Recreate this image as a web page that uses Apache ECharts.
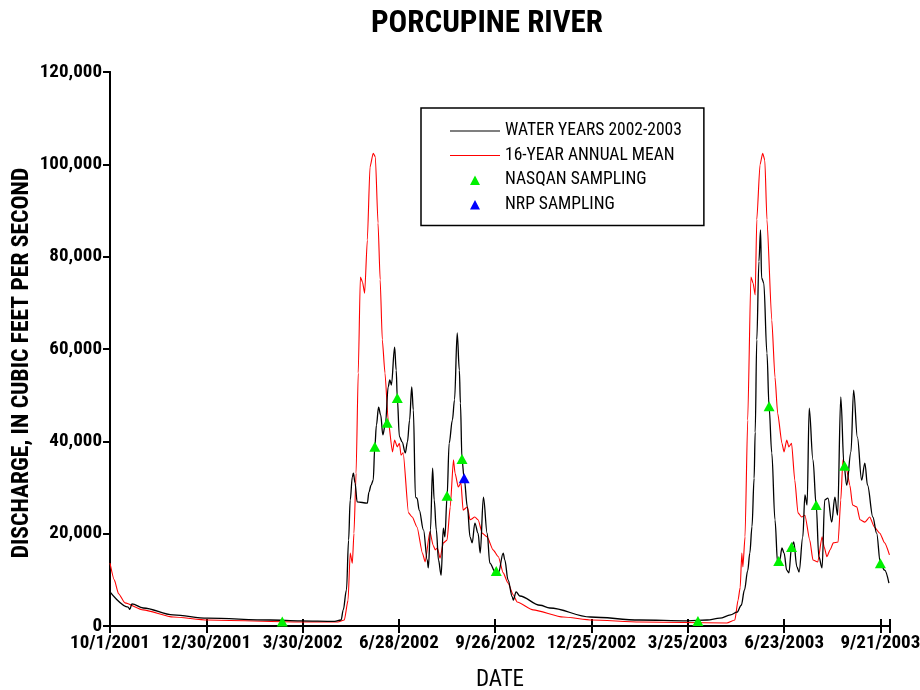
<!DOCTYPE html>
<html>
<head>
<meta charset="utf-8">
<script src="https://cdn.jsdelivr.net/npm/echarts@6/dist/echarts.min.js"></script>
<style>html,body{margin:0;padding:0;background:#fff}#c{width:920px;height:690px}</style>
</head>
<body>
<div id="c"></div>
<script>
// x values are days since 10/1/2001
const dateTickLabels = ['10/1/2001','12/30/2001','3/30/2002','6/28/2002','9/26/2002','12/25/2002','3/25/2003','6/23/2003','9/21/2003'];
const flowTicks = [0, 20000, 40000, 60000, 80000, 100000, 120000];

const wyDays = [0,17,18.5,20.5,31,59,91,150,178,210,216,218,221,223,224.5,226.5,227.5,229,231,240.5,242,244,246,247.5,249,251,253,255,257.5,260,261.5,263,266,267.5,268.5,270.5,273,276,278,280,282,283.5,285.5,287,289,293,296.5,297.5,299.5,301.5,303,305,307,309.5,311.5,313,315,317,320,322,324.5,326.5,327.5,329,331,334,336.5,338.5,341,344,346,349,352.5,355,360,363,367.5,369,372,376,377,379.5,383,402,411,449,495,540,558,570,580,586,590,593,596,598,600,602,603,604.5,606.5,608,609,611,614,616,618.5,621.5,624,626,628,630,632.5,634.5,637,639,642,644,647.5,649.5,651.5,653.5,657,660,662.5,665.5,668,671,674.5,677.5,680,683,686,688.5,692.5,695,698.5,702.5,705.5,708,713,716.5,720,724,728];
const wyFlow = [7400,4100,3600,4800,3900,2400,1700,1300,1100,1000,1300,3500,7800,18600,27300,32300,33100,31000,26900,26600,29000,30500,31600,38800,43500,47400,45700,41400,44000,51800,53300,52200,60400,55400,49400,41000,39900,37500,39900,44600,51800,46800,27900,27700,25100,20800,14300,12600,20800,34200,27300,20800,14300,11000,21200,19300,27900,39600,44600,49000,63500,55400,48300,36000,32000,25800,19300,18000,22300,20100,15800,27900,20100,13600,11700,11500,15800,14300,10000,6300,5600,7400,6500,4500,3900,1950,1300,1100,1300,1700,2400,3000,4500,7800,12000,15800,21500,32000,42000,62000,79000,85800,75400,74300,59100,47400,37500,23000,13600,14300,16900,15800,12100,11500,17100,18200,12800,11700,19300,28400,26200,47200,36000,26200,15000,12600,27300,27700,22500,27900,24000,49600,34900,30500,37700,51100,40900,31600,35300,30500,23600,20100,13600,12100,9300];

const meanDays = [0,4,8,14,31,59,91,178,213,219,222.5,224.5,226.5,228,230,232,234,236,238,240.5,243,246,248,250.5,252.5,254.5,257,260,264,266,268.5,270.5,272,274,279,282.5,287,292,294.5,299,302,304,306,308.5,311.5,315,318,321,322.5,325.5,328,330,334,336.5,341,344,348,352.5,358,363,367.5,372,377,380.5,395.5,423.5,450.5,495,576.5,584,587,589,590.5,591.5,593.5,596,599,601,603,604.5,607.5,610,612,614,618.5,621.5,624,628,630,632.5,634.5,637,640,643,646.5,649.5,654,657,661.5,665.5,667.5,670,673,676,680.5,683,685,688.5,691.5,694,698,701,705.5,710,714.5,719.5,724,728.5];
const meanFlow = [13600,10000,7000,5000,3500,1950,1300,870,870,1300,5600,15800,13600,20100,33100,54800,75600,74500,72100,83600,99400,102400,101600,87300,75000,62000,54800,44600,37700,40300,38800,39600,37000,37500,24500,23600,21400,15800,13900,20400,17500,16500,16900,14700,18000,18600,25800,36000,33100,30100,31000,25100,25800,23000,23600,23000,20100,19300,16500,15000,11500,9300,6700,5200,3500,1950,1300,870,650,1300,5600,8400,15800,12800,19300,44600,75600,74300,71700,88000,99900,102400,100900,88000,66300,53900,46100,39600,37700,40300,38800,39600,31600,24500,23600,24000,18600,14300,13900,19300,17100,15000,16500,18000,18200,27300,36000,33800,30500,26200,25800,23000,22500,23600,21400,20100,18000,15400];

const nasqanDays = [161,247.5,259,268.5,315,329,361,549.5,616,625,637,660,686.5,720];
const nasqanFlow = [1000,38800,44000,49400,28200,36200,11900,1100,47600,14100,17100,26200,34700,13600];
const nrpDays = [331];
const nrpFlow = [32000];

const zip = (a, b) => a.map((v, i) => [v, b[i]]);
const FONT = "'Liberation Sans Narrow','Noto Sans Condensed','Roboto Condensed','DejaVu Sans Condensed',sans-serif";
const LINE_ICON = 'path://M0,0h50v1h-50z';
// small triangle centred in a 50x10 legend slot (degenerate end points fix the box)
const TRI_ICON = 'path://M0,10L0,10Z M20,10L25,0.5L30,10Z M50,10L50,10Z M0,0L0,0Z';

const chart = echarts.init(document.getElementById('c'));
const axisLine = {show: true, lineStyle: {color: '#000', width: 2}};
const xBase = {type: 'value', min: 0, max: 729, interval: 90, splitLine: {show: false}, axisLine: axisLine};
const yBase = {type: 'value', min: flowTicks[0], max: flowTicks[flowTicks.length - 1], interval: 20000, splitLine: {show: false}, axisLine: axisLine};

chart.setOption({
  animation: false,
  backgroundColor: '#fff',
  title: {
    text: 'PORCUPINE RIVER', left: 366, top: 4,
    textStyle: {fontFamily: FONT, fontWeight: 'bold', fontSize: 31, color: '#000'}
  },
  grid: {left: 110, right: 30, top: 72, bottom: 64, containLabel: false, outerBoundsMode: 'none'},
  legend: {
    left: 421, top: 108, orient: 'vertical',
    borderColor: '#000', borderWidth: 1.5,
    padding: [14, 22, 12, 29], itemGap: 6.5,
    itemWidth: 50, itemHeight: 10,
    textStyle: {fontFamily: FONT, fontSize: 17.5, color: '#000'},
    data: [
      {name: 'WATER YEARS 2002-2003', icon: LINE_ICON},
      {name: '16-YEAR ANNUAL MEAN', icon: LINE_ICON},
      {name: 'NASQAN SAMPLING', icon: TRI_ICON},
      {name: 'NRP SAMPLING', icon: TRI_ICON}
    ]
  },
  xAxis: [
    Object.assign({}, xBase, {
      position: 'bottom',
      axisTick: {show: true, inside: true, length: 7, lineStyle: {color: '#000', width: 2}},
      axisLabel: {
        margin: 8, color: '#000', fontFamily: FONT, fontWeight: 'bold', fontSize: 19,
        showMinLabel: true, showMaxLabel: true, hideOverlap: false,
        formatter: v => (v % 90 === 0 && dateTickLabels[v / 90]) ? dateTickLabels[v / 90] : ''
      },
      name: 'DATE', nameLocation: 'middle', nameGap: 43,
      nameTextStyle: {fontFamily: FONT, fontSize: 23, color: '#000'}
    }),
    Object.assign({}, xBase, {
      position: 'top',
      axisTick: {show: true, inside: true, length: 7, lineStyle: {color: '#000', width: 2}},
      axisLabel: {show: false}
    })
  ],
  yAxis: [
    Object.assign({}, yBase, {
      position: 'left',
      axisTick: {show: true, inside: false, length: 7, lineStyle: {color: '#000', width: 2}},
      axisLabel: {
        margin: 8, color: '#000', fontFamily: FONT, fontWeight: 'bold', fontSize: 19,
        showMinLabel: true, showMaxLabel: true,
        formatter: v => v.toLocaleString('en-US')
      }
    }),
    Object.assign({}, yBase, {
      position: 'right',
      axisTick: {show: true, inside: true, length: 7, lineStyle: {color: '#000', width: 2}},
      axisLabel: {show: false}
    })
  ],
  graphic: [{
    type: 'text', x: 22, y: 363, rotation: Math.PI / 2,
    style: {text: 'DISCHARGE, IN CUBIC FEET PER SECOND', fill: '#000', font: "bold 23.5px " + FONT, align: 'center', verticalAlign: 'middle'}
  }],
  series: [
    {
      name: 'WATER YEARS 2002-2003', type: 'line', data: zip(wyDays, wyFlow),
      symbol: 'none', smooth: 0.35, smoothMonotone: 'x',
      lineStyle: {color: '#000', width: 1.3}, itemStyle: {color: '#000'}, z: 3
    },
    {
      name: '16-YEAR ANNUAL MEAN', type: 'line', data: zip(meanDays, meanFlow),
      symbol: 'none', smooth: 0.2, smoothMonotone: 'x',
      lineStyle: {color: '#ff0000', width: 1.1}, itemStyle: {color: '#ff0000'}, z: 2
    },
    {
      name: 'NASQAN SAMPLING', type: 'scatter', data: zip(nasqanDays, nasqanFlow),
      symbol: 'triangle', symbolSize: [11, 10], itemStyle: {color: '#00f000', opacity: 1}, z: 4
    },
    {
      name: 'NRP SAMPLING', type: 'scatter', data: zip(nrpDays, nrpFlow),
      symbol: 'triangle', symbolSize: [11, 10], itemStyle: {color: '#0000ff', opacity: 1}, z: 4
    }
  ]
});
</script>
</body>
</html>
